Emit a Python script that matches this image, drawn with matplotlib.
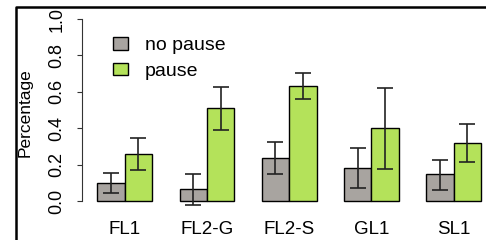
import matplotlib
matplotlib.use('Agg')
import matplotlib.pyplot as plt
from matplotlib.lines import Line2D
import numpy as np

plt.rcParams['font.family'] = ['Liberation Sans', 'DejaVu Sans']

categories = ['FL1', 'FL2-G', 'FL2-S', 'GL1', 'SL1']
series_names = ['no pause', 'pause']
no_pause = [0.100, 0.064, 0.234, 0.181, 0.147]
no_pause_lo = [0.046, -0.024, 0.147, 0.070, 0.062]
no_pause_hi = [0.156, 0.150, 0.322, 0.293, 0.227]
pause = [0.256, 0.509, 0.632, 0.399, 0.319]
pause_lo = [0.168, 0.388, 0.562, 0.178, 0.216]
pause_hi = [0.344, 0.625, 0.703, 0.619, 0.421]
yticks = [0.0, 0.2, 0.4, 0.6, 0.8, 1.0]
ytick_labels = ['0.0', '0.2', '0.4', '0.6', '0.8', '1.0']

W, H = 486, 240
fig = plt.figure(figsize=(W / 100, H / 100), dpi=100)

# R-style barplot geometry (pixel layout)
x0 = 82
unit = 27.4
xlim = (0.44, 15.56)
ax_w = (xlim[1] - xlim[0]) * unit
ylim = (-0.04, 1.04)
y0pix, yunit = 201, 182
bottom_pix = y0pix + 0.04 * yunit
top_pix = y0pix - 1.04 * yunit
ax = fig.add_axes([x0 / W, 1 - bottom_pix / H, ax_w / W, (bottom_pix - top_pix) / H])
ax.set_xlim(*xlim)
ax.set_ylim(*ylim)
ax.patch.set_alpha(0)

gray = '#a8a4a0'
green = '#b4e25a'
n = len(categories)
xg = np.arange(n) * 3 + 1.5
xp = np.arange(n) * 3 + 2.5

b1 = ax.bar(xg, no_pause, width=1, color=gray, edgecolor='black', linewidth=1.0, label=series_names[0])
b2 = ax.bar(xp, pause, width=1, color=green, edgecolor='black', linewidth=1.0, label=series_names[1])

np_ = np.array(no_pause); pp = np.array(pause)
ax.errorbar(xg, np_, yerr=[np_ - np.array(no_pause_lo), np.array(no_pause_hi) - np_],
            fmt='none', ecolor='#222222', elinewidth=1.2, capsize=6.1, capthick=1.2)
ax.errorbar(xp, pp, yerr=[pp - np.array(pause_lo), np.array(pause_hi) - pp],
            fmt='none', ecolor='#222222', elinewidth=1.2, capsize=6.1, capthick=1.2)

for s in ['top', 'right', 'bottom']:
    ax.spines[s].set_visible(False)
ax.spines['left'].set_bounds(0, 1)
ax.spines['left'].set_linewidth(0.8)
ax.spines['left'].set_color('#333333')

ax.set_yticks(yticks)
ax.set_yticklabels(ytick_labels, rotation=90, fontsize=13)
for lab in ax.get_yticklabels():
    lab.set_ha('center')
    lab.set_va('center')
ax.tick_params(axis='y', length=3.6, width=0.8, color='#333333', pad=14.4)

ax.set_xticks((xg + xp) / 2)
ax.set_xticklabels(categories, fontsize=13.5)
ax.tick_params(axis='x', length=0, pad=9.5)

fig.text(25 / W, 1 - 113 / H, 'Percentage', rotation=90, va='center', ha='center', fontsize=12.5)

leg = ax.legend(handles=[b1, b2], loc='upper left', bbox_to_anchor=(113 / W, 1 - 37 / H),
                bbox_transform=fig.transFigure, frameon=False, fontsize=14,
                handlelength=0.75, handleheight=0.62, handletextpad=0.9,
                labelspacing=0.45, borderpad=0, borderaxespad=0)

# outer box (cropped)
fig.add_artist(Line2D([16 / W, 16 / W, 1.01], [-0.01, 1 - 6.5 / H, 1 - 6.5 / H],
                      transform=fig.transFigure, color='black', linewidth=1.8, clip_on=False))

fig.savefig('out.png', dpi=100)
